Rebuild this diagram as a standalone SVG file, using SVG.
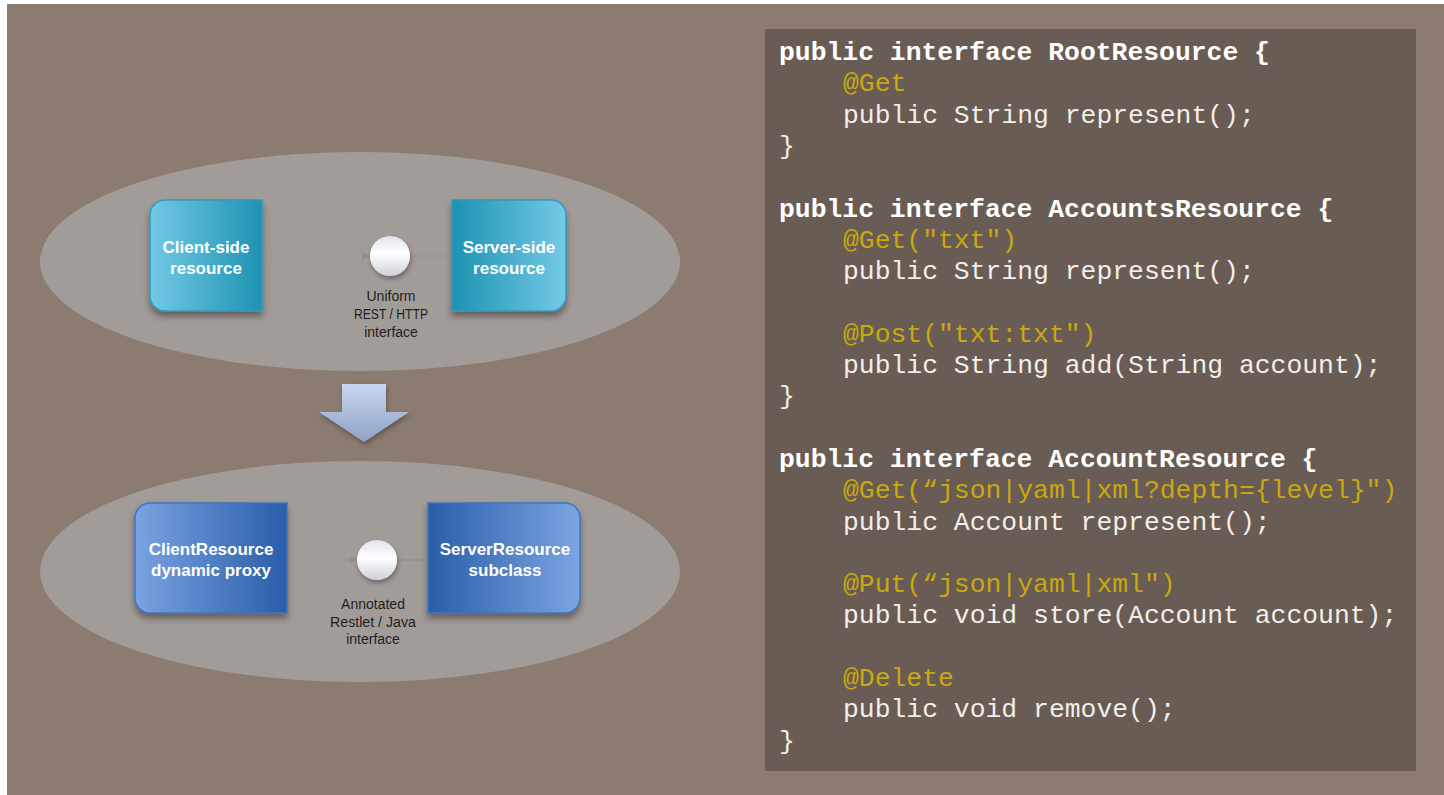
<svg xmlns="http://www.w3.org/2000/svg" width="1444" height="795" viewBox="0 0 1444 795">
<style>
.code{font-family:"Liberation Mono","Courier New",monospace;font-size:26.4px;fill:#f2eee9}
.kw{font-weight:bold;fill:#ffffff}
.ann{fill:#c9a80f}
.box{font-family:"Liberation Sans",Arial,sans-serif;font-size:17px;font-weight:bold;fill:#ffffff;text-anchor:middle}
.lbl{font-family:"Liberation Sans",Arial,sans-serif;font-size:14px;fill:#1e1e1e;text-anchor:middle}
.dash{stroke:#8f8f8f;stroke-width:1.2;stroke-dasharray:4 3;fill:none}
.solid{stroke:#8f8f8f;stroke-width:1.2;fill:none}
</style>
<defs>
<linearGradient id="gTealL" x1="0" y1="0" x2="1" y2="0"><stop offset="0" stop-color="#72c9e5"/><stop offset="1" stop-color="#1e92b2"/></linearGradient>
<linearGradient id="gTealR" x1="0" y1="0" x2="1" y2="0"><stop offset="0" stop-color="#1e92b2"/><stop offset="1" stop-color="#74cae6"/></linearGradient>
<linearGradient id="gBlueL" x1="0" y1="0" x2="1" y2="0"><stop offset="0" stop-color="#79a3e1"/><stop offset="1" stop-color="#2a5da9"/></linearGradient>
<linearGradient id="gBlueR" x1="0" y1="0" x2="1" y2="0"><stop offset="0" stop-color="#2a5da9"/><stop offset="1" stop-color="#7ba5e2"/></linearGradient>
<linearGradient id="gCirc" x1="0" y1="0" x2="0" y2="1"><stop offset="0" stop-color="#e2e2ea"/><stop offset="0.45" stop-color="#ffffff"/><stop offset="1" stop-color="#cfd0d8"/></linearGradient>
<linearGradient id="gArrow" x1="0" y1="0" x2="0" y2="1"><stop offset="0" stop-color="#c8d6f0"/><stop offset="1" stop-color="#8ea3c6"/></linearGradient>
<filter id="sh" x="-20%" y="-20%" width="140%" height="150%"><feDropShadow dx="0" dy="5" stdDeviation="3" flood-color="#3a3030" flood-opacity="0.55"/></filter>
<filter id="shs" x="-40%" y="-40%" width="180%" height="180%"><feDropShadow dx="1" dy="3" stdDeviation="2" flood-color="#3a3030" flood-opacity="0.5"/></filter>
<marker id="arr" markerWidth="8" markerHeight="8" refX="7" refY="4" orient="auto" markerUnits="userSpaceOnUse"><path d="M0,0 L8,4 L0,8 Z" fill="#8f8f8f"/></marker>
</defs>
<rect x="0" y="0" width="1444" height="795" fill="#ffffff"/>
<rect x="7" y="4" width="1437" height="791" fill="#8b7b70"/>
<g id="top-group">
<ellipse cx="360" cy="261.5" rx="320" ry="109.5" fill="#a29c99"/>
</g>
<g id="bottom-group">
<ellipse cx="360" cy="571.5" rx="320" ry="110.5" fill="#a29c99"/>
</g>
<g id="connectors">
<line class="dash" x1="263" y1="256" x2="369" y2="256" marker-end="url(#arr)"/>
<line class="solid" x1="410" y1="256" x2="452" y2="256"/>
<line class="dash" x1="288" y1="560" x2="356" y2="560" marker-end="url(#arr)"/>
<line class="solid" x1="397" y1="560" x2="428" y2="560"/>
</g>
<g id="client-side">
<path d="M262,200 H165 A15,15 0 0 0 150,215 V296 A15,15 0 0 0 165,311 H262 Z" fill="url(#gTealL)" stroke="#2d9dbd" stroke-width="1.5" filter="url(#sh)"/>
<text class="box" x="206" y="253">Client-side</text>
<text class="box" x="206" y="274">resource</text>
</g>
<g id="server-side">
<path d="M452,200 H551 A15,15 0 0 1 566,215 V296 A15,15 0 0 1 551,311 H452 Z" fill="url(#gTealR)" stroke="#2d9dbd" stroke-width="1.5" filter="url(#sh)"/>
<text class="box" x="509" y="253">Server-side</text>
<text class="box" x="509" y="274">resource</text>
</g>
<g id="rest-interface">
<circle cx="390" cy="256" r="20" fill="url(#gCirc)" filter="url(#shs)"/>
<text class="lbl" x="391" y="301">Uniform</text>
<text class="lbl" x="391" y="319" textLength="74" lengthAdjust="spacingAndGlyphs">REST / HTTP</text>
<text class="lbl" x="391" y="337">interface</text>
</g>
<g id="transform-arrow">
<path d="M342,384 H386 V412 H409 L364,442 L319,412 H342 Z" fill="url(#gArrow)" filter="url(#shs)"/>
</g>
<g id="client-resource">
<path d="M287,503 H150 A15,15 0 0 0 135,518 V598 A15,15 0 0 0 150,613 H287 Z" fill="url(#gBlueL)" stroke="#3f74c4" stroke-width="1.5" filter="url(#sh)"/>
<text class="box" x="211" y="555">ClientResource</text>
<text class="box" x="211" y="576">dynamic proxy</text>
</g>
<g id="server-resource">
<path d="M428,503 H565 A15,15 0 0 1 580,518 V598 A15,15 0 0 1 565,613 H428 Z" fill="url(#gBlueR)" stroke="#3f74c4" stroke-width="1.5" filter="url(#sh)"/>
<text class="box" x="505" y="555">ServerResource</text>
<text class="box" x="505" y="576">subclass</text>
</g>
<g id="annotated-interface">
<circle cx="377" cy="560" r="20" fill="url(#gCirc)" filter="url(#shs)"/>
<text class="lbl" x="373" y="609">Annotated</text>
<text class="lbl" x="373" y="627" textLength="86" lengthAdjust="spacingAndGlyphs">Restlet / Java</text>
<text class="lbl" x="373" y="644">interface</text>
</g>
<g id="code-panel">
<rect x="765" y="29" width="651" height="742" fill="#695c54"/>
<text class="code kw" x="779" y="60">public interface RootResource {</text>
<text class="code ann" x="843" y="91.3">@Get</text>
<text class="code" x="843" y="122.6">public String represent();</text>
<text class="code" x="779" y="153.9">}</text>
<text class="code kw" x="779" y="216.5">public interface AccountsResource {</text>
<text class="code ann" x="843" y="247.8">@Get("txt")</text>
<text class="code" x="843" y="279.1">public String represent();</text>
<text class="code ann" x="843" y="341.7">@Post("txt:txt")</text>
<text class="code" x="843" y="373">public String add(String account);</text>
<text class="code" x="779" y="404.3">}</text>
<text class="code kw" x="779" y="466.9">public interface AccountResource {</text>
<text class="code ann" x="843" y="498.2">@Get(“json|yaml|xml?depth={level}")</text>
<text class="code" x="843" y="529.5">public Account represent();</text>
<text class="code ann" x="843" y="592.1">@Put(“json|yaml|xml")</text>
<text class="code" x="843" y="623.4">public void store(Account account);</text>
<text class="code ann" x="843" y="686">@Delete</text>
<text class="code" x="843" y="717.3">public void remove();</text>
<text class="code" x="779" y="748.6">}</text>
</g>
</svg>
